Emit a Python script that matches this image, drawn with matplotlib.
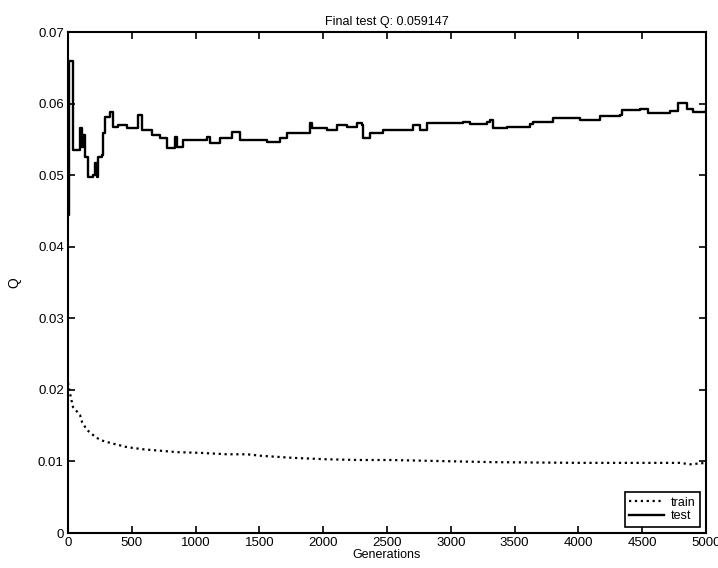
import numpy as np
import matplotlib.pyplot as plt

plt.rcParams['font.family'] = ['Liberation Sans', 'DejaVu Sans']

# test Q per generation (sampled at the visible turning points)
test_gen = [0, 8, 39, 94, 110, 118, 133, 157, 196, 212, 227, 235, 266, 274,
            290, 329, 353, 392, 462, 549, 580, 658, 721, 776, 839, 854, 901,
            980, 1089, 1113, 1191, 1285, 1348, 1426, 1560, 1661, 1716, 1818,
            1897, 1912, 2030, 2108, 2187, 2265, 2304, 2312, 2367, 2469, 2602,
            2704, 2759, 2813, 2994, 3096, 3150, 3284, 3307, 3331, 3440, 3621,
            3644, 3801, 3958, 4013, 4169, 4326, 4342, 4483, 4545, 4718, 4780,
            4851, 4898, 5000]
test_q = [0.0444, 0.0660, 0.0535, 0.0566, 0.0539, 0.0556, 0.0525, 0.0497,
          0.0500, 0.0517, 0.0497, 0.0525, 0.0528, 0.0559, 0.0581, 0.0588,
          0.0567, 0.0570, 0.0566, 0.0584, 0.0563, 0.0556, 0.0552, 0.0538,
          0.0553, 0.0540, 0.0549, 0.0549, 0.0553, 0.0545, 0.0552, 0.0560,
          0.0549, 0.0549, 0.0546, 0.0552, 0.0559, 0.0559, 0.0573, 0.0566,
          0.0563, 0.0570, 0.0567, 0.0573, 0.0570, 0.0552, 0.0559, 0.0563,
          0.0563, 0.0570, 0.0563, 0.0573, 0.0573, 0.0574, 0.0571, 0.0574,
          0.0577, 0.0566, 0.0567, 0.0571, 0.0574, 0.0580, 0.0580, 0.0577,
          0.0583, 0.0584, 0.0591, 0.0592, 0.0587, 0.0590, 0.0601, 0.0592,
          0.0588, 0.059147]

# train Q per generation
train_gen = [0, 16, 39, 94, 110, 149, 196, 251, 329, 462, 588, 721, 854,
             1034, 1246, 1403, 1505, 1763, 2030, 2288, 2524, 3331, 4013,
             4796, 4874, 5000]
train_q = [0.0210, 0.0195, 0.0176, 0.0165, 0.0155, 0.0144, 0.0137, 0.0130,
           0.0126, 0.0120, 0.0117, 0.0115, 0.0113, 0.0112, 0.0110, 0.0110,
           0.0108, 0.0105, 0.0103, 0.0102, 0.0102, 0.0099, 0.0098, 0.0098,
           0.0096, 0.0098]

final_q = test_q[-1]

fig = plt.figure(figsize=(7.18, 5.68), dpi=100)
ax = fig.add_axes([0.0947, 0.0616, 0.8886, 0.8820])

ax.plot(train_gen, train_q, ':', color='black', lw=1.6, label='train')
ax.plot(test_gen, test_q, '-', color='black', lw=1.7, drawstyle='steps-post',
        label='test')

ax.set_xlim(0, 5000)
ax.set_ylim(0, 0.07)
ax.set_xticks(np.arange(0, 5001, 500))
ax.set_yticks(np.arange(0, 0.0701, 0.01))
ax.set_yticklabels(['0', '0.01', '0.02', '0.03', '0.04', '0.05', '0.06', '0.07'])
ax.tick_params(direction='in', top=True, right=True, length=5, width=1.2,
               labelsize=9.5, pad=3)
for s in ax.spines.values():
    s.set_linewidth(1.5)

ax.set_title(f'Final test Q: {final_q:.6f}', fontsize=9, pad=5)
ax.set_xlabel('Generations', fontsize=9, labelpad=0)
ax.set_ylabel('Q', fontsize=10, labelpad=12)

leg = ax.legend(loc='lower right', fontsize=9, handlelength=2.8,
                fancybox=False, framealpha=1, edgecolor='black',
                borderpad=0.35, labelspacing=0.15, handletextpad=0.5,
                borderaxespad=0.5)
leg.get_frame().set_linewidth(1.2)

fig.savefig('out.png', dpi=100)
